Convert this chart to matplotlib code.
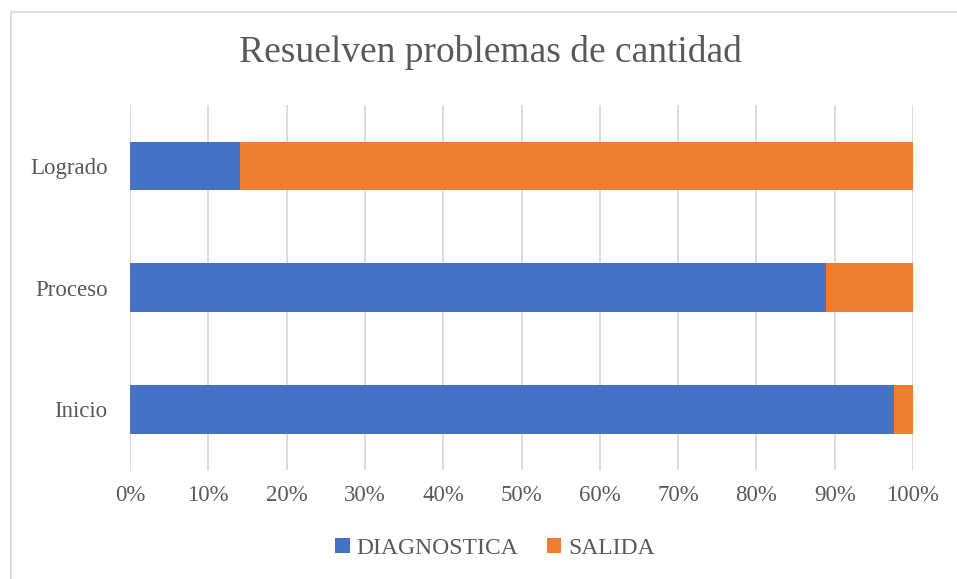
import matplotlib
matplotlib.use("Agg")
import matplotlib.pyplot as plt
from matplotlib.lines import Line2D
from matplotlib.ticker import FuncFormatter

categories = ["Inicio", "Proceso", "Logrado"]
diagnostica = [97.6, 88.9, 14.0]
salida = [2.4, 11.1, 86.0]
series_names = ["DIAGNOSTICA", "SALIDA"]
colors = ["#4472C4", "#ED7D31"]

plt.rcParams['font.family'] = ['Liberation Serif', 'DejaVu Serif']
text_color = "#595959"

fig = plt.figure(figsize=(9.57, 5.79), dpi=100)
ax = fig.add_axes([130/957, 1-470/579, (913-130)/957, (470-105)/579])

y = range(len(categories))
ax.barh(y, diagnostica, height=0.4, color=colors[0], label=series_names[0], zorder=3)
ax.barh(y, salida, left=diagnostica, height=0.4, color=colors[1], label=series_names[1], zorder=3)

ax.set_xlim(0, 100)
ax.set_ylim(-0.5, 2.5)
ax.set_xticks(range(0, 101, 10))
ax.xaxis.set_major_formatter(FuncFormatter(lambda v, p: f"{int(v)}%"))
ax.set_yticks(list(y))
ax.set_yticklabels(categories)
ax.grid(axis='x', color='#D9D9D9', linewidth=1.3, zorder=0)
for s in ax.spines.values():
    s.set_visible(False)
ax.tick_params(axis='both', length=0, labelsize=16.5, labelcolor=text_color)
ax.tick_params(axis='x', pad=11)
ax.tick_params(axis='y', pad=16)

fig.text(490/957, 1-53/579, "Resuelven problemas de cantidad", ha='center', va='center',
         fontsize=27, color=text_color)

leg = fig.legend(loc='center', bbox_to_anchor=(495/957, 1-548/579), ncol=2, frameon=False,
                 fontsize=17, handlelength=0.6, handleheight=0.6, handletextpad=0.3,
                 columnspacing=1.2, labelcolor=text_color)

# partial chart border (top and left edges only, as in the reference crop)
fig.add_artist(Line2D([10.5/957, 957/957], [1-11.5/579, 1-11.5/579], transform=fig.transFigure,
                      color='#D9D9D9', linewidth=1.2))
fig.add_artist(Line2D([10.5/957, 10.5/957], [0, 1-11.5/579], transform=fig.transFigure,
                      color='#D9D9D9', linewidth=1.2))

fig.savefig("out.png", dpi=100)
